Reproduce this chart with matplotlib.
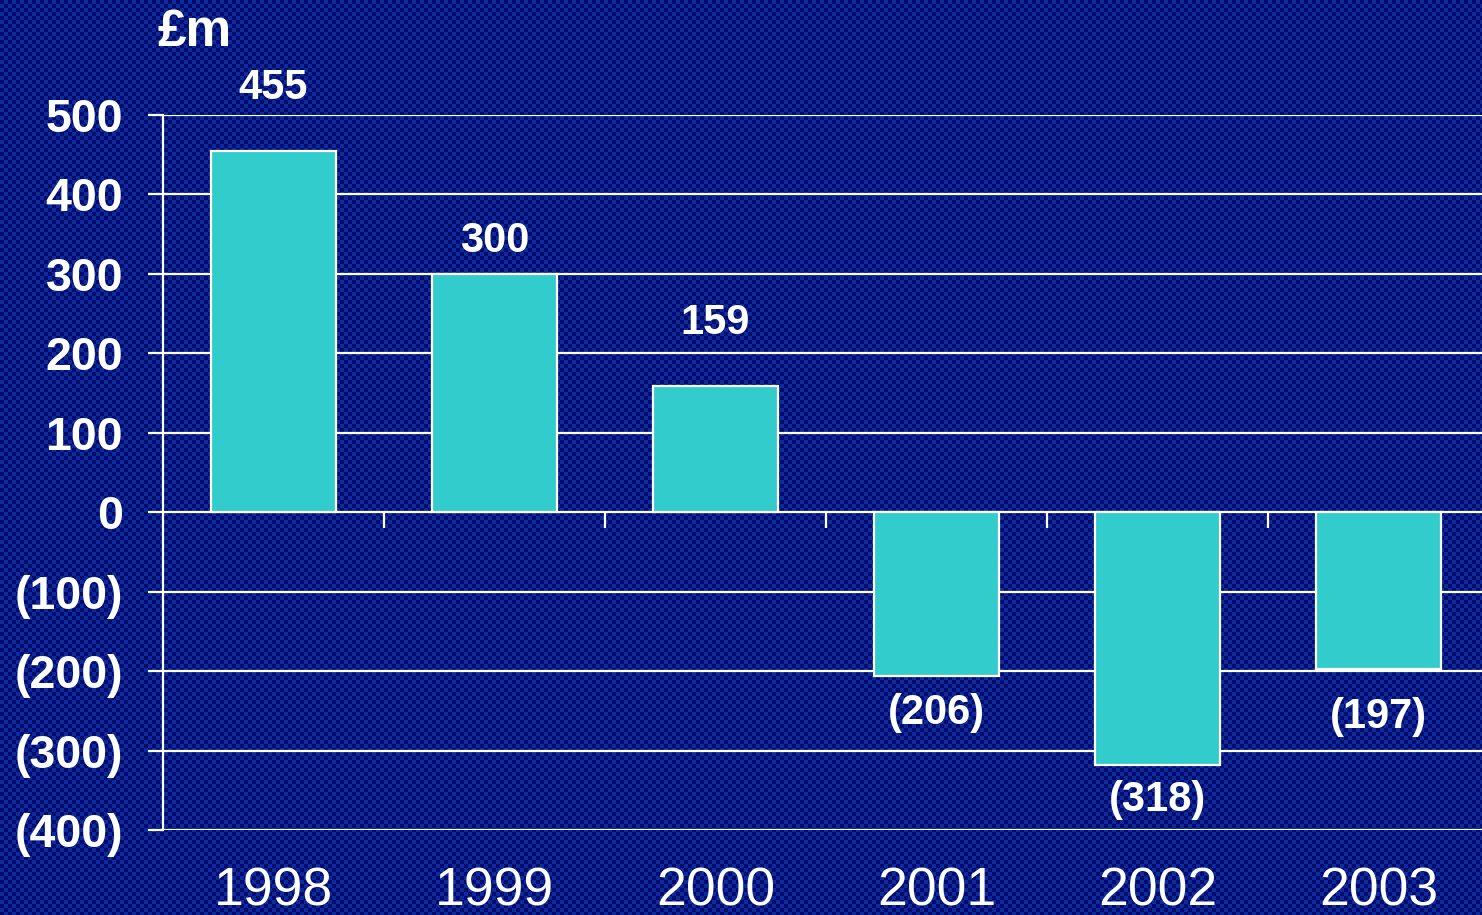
import numpy as np
import matplotlib.pyplot as plt
from matplotlib.ticker import FuncFormatter

# Data
years = ["1998", "1999", "2000", "2001", "2002", "2003"]
values = [455, 300, 159, -206, -318, -197]
y_ticks = [-400, -300, -200, -100, 0, 100, 200, 300, 400, 500]

# Styles
BG = "#061a84"
BAR = "#33cccc"
label_pad = [45, 24, 45, 27, 25, 35]  # points from bar end, per label

plt.rcParams["font.family"] = ["Liberation Sans", "DejaVu Sans"]


def money(v, pos=None):
    # negatives shown in brackets
    return f"({abs(v):.0f})" if v < 0 else f"{v:.0f}"


fig = plt.figure(figsize=(14.82, 9.15), dpi=100, facecolor=BG)

# checkered slide background, kept under the axes
W, H = 1482, 915
yy, xx = np.mgrid[0:H, 0:W]
check = ((xx // 4 + yy // 4) % 2).astype(float)[..., None]
dark = np.array([0, 10, 106]) / 255
light = np.array([12, 44, 158]) / 255
fig.figimage(dark + (light - dark) * check, xo=0, yo=0, zorder=-10)

ax = fig.add_axes([163 / 1482, 85 / 915, 1319 / 1482, 715 / 915])
ax.set_facecolor("none")

x = list(range(len(years)))
bars = ax.bar(x, values, width=0.566, color=BAR, edgecolor="white", linewidth=1.6, zorder=3)

for rect, v, pad in zip(bars, values, label_pad):
    cx = rect.get_x() + rect.get_width() / 2
    ax.annotate(money(v), (cx, v), xytext=(0, pad if v > 0 else -pad),
                textcoords="offset points", ha="center", va="center",
                color="white", fontsize=30, fontweight="bold", zorder=4)

# category separators on the zero line
for i in range(len(years) - 1):
    ax.vlines(i + 0.5, -20, 0, color="white", linewidth=1.6, zorder=2)

ax.set_xlim(-0.5, -0.5 + 1319 / 221)
ax.set_ylim(-400, 500)
ax.set_yticks(y_ticks)
ax.yaxis.set_major_formatter(FuncFormatter(money))
ax.set_xticks(x)
ax.set_xticklabels(years)

ax.grid(axis="y", color="white", linewidth=1.6, zorder=1)
ax.set_axisbelow(True)
ax.tick_params(axis="y", colors="white", length=10.8, width=1.6, pad=18,
               labelsize=33.5)
for lbl in ax.get_yticklabels():
    lbl.set_fontweight("bold")
ax.tick_params(axis="x", colors="white", length=0, pad=26, labelsize=38.5)

for s in ["top", "right", "bottom"]:
    ax.spines[s].set_visible(False)
ax.spines["left"].set_color("white")
ax.spines["left"].set_linewidth(1.6)

fig.text(157 / 1482, 1 - 33 / 915, "£m", color="white", fontsize=37,
         fontweight="bold", va="center", ha="left")

fig.savefig("out.png", dpi=100)
